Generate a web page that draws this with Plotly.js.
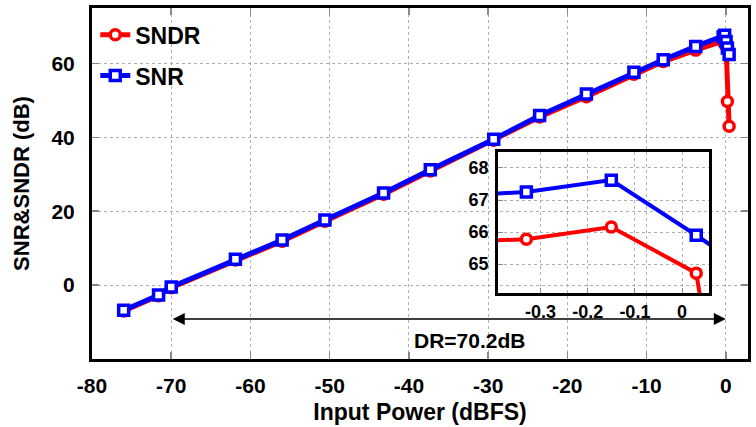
<!DOCTYPE html>
<html>
<head>
<meta charset="utf-8">
<script src="https://cdn.plot.ly/plotly-3.0.1.min.js"></script>
<style>html,body{margin:0;padding:0;background:#fff;}#chart{width:756px;height:427px;}</style>
</head>
<body>
<div id="chart"></div>
<script>
// Input power (dBFS)
const inputPower = [-76, -71.6, -70, -61.9, -56, -50.6, -43.2, -37.3, -29.3, -23.5, -17.6, -11.6, -7.9, -3.8, -0.33, -0.15, 0.03, 0.2, 0.42];
// SNR (dB)
const snr = [-6.8, -2.7, -0.5, 7.0, 12.2, 17.6, 24.9, 31.2, 39.5, 45.9, 51.7, 57.6, 61.0, 64.6, 67.25, 67.62, 65.9, 64.2, 62.4];
// SNDR (dB)
const sndr = [-7.0, -2.9, -0.7, 6.8, 11.9, 17.3, 24.6, 30.9, 39.2, 45.5, 51.0, 57.1, 60.5, 63.6, 65.78, 66.16, 64.72, 49.7, 43.0];

const mainXTicks = [-80, -70, -60, -50, -40, -30, -20, -10, 0];
const mainYTicks = [0, 20, 40, 60];
const insetXTicks = [-0.3, -0.2, -0.1, 0];
const insetYTicks = [65, 66, 67, 68];

const RED = '#ff0000', BLUE = '#0000ff';
const FONT = 'Liberation Sans, Arial, sans-serif';

function tr(y, name, color, sym, xa, ya, show, lw, ms) {
  return {
    x: inputPower, y: y, name: name, xaxis: xa, yaxis: ya,
    type: 'scatter', mode: 'lines+markers', showlegend: show, legendgroup: name,
    line: {color: color, width: lw},
    marker: {symbol: sym, size: ms, color: '#ffffff', line: {color: color, width: 3.5}}
  };
}

const data = [
  tr(sndr, 'SNDR', RED, 'circle', 'x', 'y', true, 5, 10),
  tr(snr, 'SNR', BLUE, 'square', 'x', 'y', true, 5, 10),
  tr(sndr, 'SNDR', RED, 'circle', 'x2', 'y2', false, 4, 10),
  tr(snr, 'SNR', BLUE, 'square', 'x2', 'y2', false, 4, 10)
];

const axFont = {family: FONT, size: 21, color: '#000', weight: 'bold'};
const insFont = {family: FONT, size: 18, color: '#000', weight: 'bold'};

const layout = {
  width: 756, height: 427,
  margin: {l: 92, r: 8, t: 8, b: 68},
  paper_bgcolor: '#ffffff', plot_bgcolor: 'rgba(0,0,0,0)',
  font: {family: FONT, color: '#000'},
  showlegend: true,
  legend: {x: 0.005, y: 0.985, xanchor: 'left', yanchor: 'top', bgcolor: 'rgba(0,0,0,0)',
           font: {family: FONT, size: 23, color: '#000', weight: 'bold'},
           traceorder: 'grouped', tracegroupgap: 8},
  xaxis: {
    domain: [0, 1], range: [-80, 2.8], tickvals: mainXTicks, ticktext: mainXTicks.map(String),
    showline: true, linecolor: '#000', linewidth: 3, mirror: 'ticks',
    ticks: 'inside', ticklen: 7, tickcolor: '#888', tickwidth: 1.5,
    showgrid: true, gridcolor: '#b0b0b0', griddash: 'dot', gridwidth: 1,
    zeroline: false, tickfont: axFont, ticklabelstandoff: 6,
    title: {text: 'Input Power (dBFS)', font: {family: FONT, size: 23, color: '#000', weight: 'bold'}, standoff: 8}
  },
  yaxis: {
    domain: [0, 1], range: [-20, 75], tickvals: mainYTicks, ticktext: mainYTicks.map(String),
    showline: true, linecolor: '#000', linewidth: 3, mirror: 'ticks',
    ticks: 'inside', ticklen: 7, tickcolor: '#888', tickwidth: 1.5,
    showgrid: true, gridcolor: '#b0b0b0', griddash: 'dot', gridwidth: 1,
    zeroline: false, tickfont: axFont, ticklabelstandoff: 10,
    title: {text: 'SNR&SNDR (dB)', font: {family: FONT, size: 22, color: '#000', weight: 'bold'}, standoff: 16}
  },
  xaxis2: {
    domain: [0.619, 0.9405], anchor: 'y2', range: [-0.39, 0.057], tickvals: insetXTicks,
    ticktext: insetXTicks.map(String),
    showline: true, linecolor: '#000', linewidth: 3, mirror: true,
    ticks: 'inside', ticklen: 5, tickcolor: '#888', tickwidth: 1,
    showgrid: true, gridcolor: '#b0b0b0', griddash: 'dot', gridwidth: 1,
    zeroline: false, tickfont: insFont, ticklabelstandoff: 0
  },
  yaxis2: {
    domain: [0.188, 0.59], anchor: 'x2', range: [64.1, 68.5], tickvals: insetYTicks,
    ticktext: insetYTicks.map(String),
    showline: true, linecolor: '#000', linewidth: 3, mirror: true,
    ticks: 'inside', ticklen: 5, tickcolor: '#888', tickwidth: 1,
    showgrid: true, gridcolor: '#b0b0b0', griddash: 'dot', gridwidth: 1,
    zeroline: false, tickfont: insFont, ticklabelstandoff: 3
  },
  annotations: [
    {x: 0, y: -9.2, ax: -70, ay: -9.2, xref: 'x', yref: 'y', axref: 'x', ayref: 'y',
     text: '', showarrow: true, arrowside: 'end+start', arrowhead: 2, arrowsize: 1.6,
     arrowwidth: 1.5, arrowcolor: '#000', standoff: 0, startstandoff: 0},
    {x: -32.3, y: -14.9, xref: 'x', yref: 'y', text: 'DR=70.2dB', showarrow: false,
     font: {family: FONT, size: 21, color: '#000', weight: 'bold'}}
  ]
};

Plotly.newPlot('chart', data, layout, {displayModeBar: false, staticPlot: true});
</script>
</body>
</html>
